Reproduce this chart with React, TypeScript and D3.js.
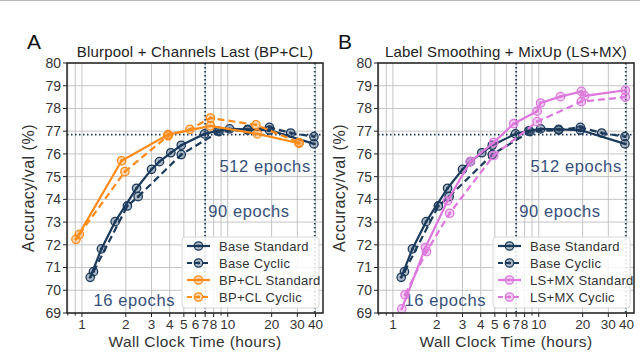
import React from "react";
import * as d3 from "d3";

// Base (shared by both panels)
const baseStdTime = [1.14, 1.36, 1.69, 2.37, 3.0, 3.4, 4.07, 4.8, 6.93, 8.55, 10.3, 13.7, 19.3, 39];
const baseStdAcc = [70.57, 71.82, 73.02, 74.49, 75.32, 75.66, 76.05, 76.38, 76.88, 77.02, 77.1, 77.08, 77.05, 76.44];
const baseCycTime = [1.2, 2.05, 2.43, 4.8, 8.7, 13.7, 19.3, 27, 39];
const baseCycAcc = [70.82, 73.71, 74.12, 75.97, 76.98, 77.05, 77.17, 76.92, 76.76];

// Blurpool + Channels Last
const bpStdTime = [0.91, 1.87, 3.9, 7.6, 16.0, 30.8];
const bpStdAcc = [72.24, 75.7, 76.85, 77.23, 76.88, 76.47];
const bpCycTime = [0.96, 1.97, 3.9, 5.5, 7.6, 15.6, 30.8];
const bpCycAcc = [72.46, 75.22, 76.8, 77.08, 77.58, 77.28, 76.5];

// Label Smoothing + MixUp
const lsStdTime = [1.15, 1.67, 2.37, 3.39, 4.91, 6.73, 9.75, 10.3, 14.1, 19.6, 20.6, 39.3];
const lsStdAcc = [69.18, 71.88, 73.94, 75.66, 76.5, 77.33, 77.88, 78.24, 78.52, 78.75, 78.55, 78.8];
const lsCycTime = [1.21, 1.7, 2.45, 4.91, 9.75, 19.6, 39.3];
const lsCycAcc = [69.8, 71.7, 73.39, 75.93, 77.42, 78.3, 78.5];

const yTicks = [69, 70, 71, 72, 73, 74, 75, 76, 77, 78, 79, 80];
const xMajor = [1, 2, 3, 4, 5, 6, 7, 8, 10, 20, 30, 40];
const xMinor = [0.8, 0.9, 9];
const refAcc = 76.85;
const refTimes = [7.0, 39.5];

const NAVY = "#1b3a5c";
const ORANGE = "#ff8c1a";
const VIOLET = "#de78de";
const FONT = "Liberation Sans, Arial, sans-serif";

type Series = { t: number[]; a: number[]; color: string; dashed: boolean; label: string };

function Marker({ x, y, color }: { x: number; y: number; color: string }) {
  return (
    <g>
      <circle cx={x} cy={y} r={4.2} fill={color} fillOpacity={0.35} stroke={color} strokeWidth={1.3} />
      <circle cx={x} cy={y} r={1.4} fill={color} />
    </g>
  );
}

function Panel({ left, letter, title, series }: { left: number; letter: string; title: string; series: Series[] }) {
  const width = 256;
  const top = 63;
  const bottom = 313;
  const x = d3.scaleLog().domain([0.79, 45]).range([left, left + width]);
  const y = d3.scaleLinear().domain([69, 80]).range([bottom, top]);
  const line = d3
    .line<[number, number]>()
    .x((d) => x(d[0]))
    .y((d) => y(d[1]));

  const legX = left + 115;
  const legY = 237;

  return (
    <g fontFamily={FONT}>
      <text x={left - 40} y={49} fontSize={21} fill="#111">
        {letter}
      </text>
      <text x={left + width / 2} y={57} fontSize={15} textAnchor="middle" fill="#222" letterSpacing={0.2}>
        {title}
      </text>

      {/* grid */}
      {yTicks.map((v) => (
        <line key={"gy" + v} x1={left} x2={left + width} y1={y(v)} y2={y(v)} stroke="#c4c4c4" strokeWidth={1} />
      ))}
      {[...xMajor, ...xMinor].map((v) => (
        <line key={"gx" + v} x1={x(v)} x2={x(v)} y1={top} y2={bottom} stroke="#c4c4c4" strokeWidth={1} />
      ))}

      {/* reference lines */}
      <line x1={left} x2={left + width} y1={y(refAcc)} y2={y(refAcc)} stroke={NAVY} strokeWidth={1.8} strokeDasharray="1.5,2.5" />
      {refTimes.map((t) => (
        <line key={"r" + t} x1={x(t)} x2={x(t)} y1={top} y2={bottom} stroke={NAVY} strokeWidth={1.8} strokeDasharray="1.5,2.5" />
      ))}

      {/* epoch labels */}
      <text x={x(1.2)} y={306} fontSize={16.5} fill="#35507a" letterSpacing={0.6}>
        16 epochs
      </text>
      <text x={x(7.0) + 3} y={217} fontSize={16.5} fill="#35507a" letterSpacing={0.6}>
        90 epochs
      </text>
      <text x={x(39.5) - 4} y={172} fontSize={16.5} fill="#35507a" textAnchor="end" letterSpacing={0.6}>
        512 epochs
      </text>

      {/* series */}
      {series.map((s, i) => {
        const pts = s.t.map((t, j) => [t, s.a[j]] as [number, number]);
        return (
          <g key={i}>
            <path
              d={line(pts) || ""}
              fill="none"
              stroke={s.color}
              strokeWidth={2.2}
              strokeDasharray={s.dashed ? "7,4" : undefined}
            />
            {pts.map((p, j) => (
              <Marker key={j} x={x(p[0])} y={y(p[1])} color={s.color} />
            ))}
          </g>
        );
      })}

      {/* frame */}
      <rect x={left} y={top} width={width} height={bottom - top} fill="none" stroke="#222" strokeWidth={1.5} />

      {/* y axis */}
      {yTicks.map((v) => (
        <g key={"ty" + v}>
          <line x1={left - 4} x2={left} y1={y(v)} y2={y(v)} stroke="#222" />
          <text x={left - 6} y={y(v)} dy="0.35em" fontSize={14} textAnchor="end" fill="#333">
            {v}
          </text>
        </g>
      ))}
      <text
        transform={`translate(${left - 33},${(top + bottom) / 2}) rotate(-90)`}
        textAnchor="middle"
        fontSize={16}
        fill="#333"
        letterSpacing={0.5}
      >
        Accuracy/val (%)
      </text>

      {/* x axis */}
      {xMajor.map((v) => (
        <g key={"tx" + v}>
          <line x1={x(v)} x2={x(v)} y1={bottom} y2={bottom + 4} stroke="#222" />
          <text x={x(v)} y={bottom + 16} fontSize={13.5} textAnchor="middle" fill="#333">
            {v}
          </text>
        </g>
      ))}
      {xMinor.map((v) => (
        <line key={"mx" + v} x1={x(v)} x2={x(v)} y1={bottom} y2={bottom + 2.5} stroke="#222" />
      ))}
      <text x={left + width / 2} y={347} fontSize={15.5} textAnchor="middle" fill="#333" letterSpacing={0.4}>
        Wall Clock Time (hours)
      </text>

      {/* legend */}
      <rect x={legX} y={legY} width={137} height={71} rx={3} fill="#fff" fillOpacity={0.85} stroke="#d8d8d8" />
      {series.map((s, i) => {
        const ly = legY + 9 + i * 17;
        return (
          <g key={"l" + i}>
            <line
              x1={legX + 5}
              x2={legX + 28}
              y1={ly}
              y2={ly}
              stroke={s.color}
              strokeWidth={2.2}
              strokeDasharray={s.dashed ? "5,3" : undefined}
            />
            <Marker x={legX + 16.5} y={ly} color={s.color} />
            <text x={legX + 37} y={ly} dy="0.35em" fontSize={13} fill="#333" letterSpacing={0.3}>
              {s.label}
            </text>
          </g>
        );
      })}
    </g>
  );
}

export default function App() {
  const base: Series[] = [
    { t: baseStdTime, a: baseStdAcc, color: NAVY, dashed: false, label: "Base Standard" },
    { t: baseCycTime, a: baseCycAcc, color: NAVY, dashed: true, label: "Base Cyclic" },
  ];
  const seriesA: Series[] = [
    ...base,
    { t: bpStdTime, a: bpStdAcc, color: ORANGE, dashed: false, label: "BP+CL Standard" },
    { t: bpCycTime, a: bpCycAcc, color: ORANGE, dashed: true, label: "BP+CL Cyclic" },
  ];
  const seriesB: Series[] = [
    ...base,
    { t: lsStdTime, a: lsStdAcc, color: VIOLET, dashed: false, label: "LS+MX Standard" },
    { t: lsCycTime, a: lsCycAcc, color: VIOLET, dashed: true, label: "LS+MX Cyclic" },
  ];
  return (
    <svg width={640} height={352} style={{ position: "absolute", left: 0, top: 0, background: "#fff" }}>
      <line x1={0} x2={640} y1={0.5} y2={0.5} stroke="#bbb" />
      <Panel left={67} letter="A" title="Blurpool + Channels Last (BP+CL)" series={seriesA} />
      <Panel left={378} letter="B" title="Label Smoothing + MixUp (LS+MX)" series={seriesB} />
    </svg>
  );
}
